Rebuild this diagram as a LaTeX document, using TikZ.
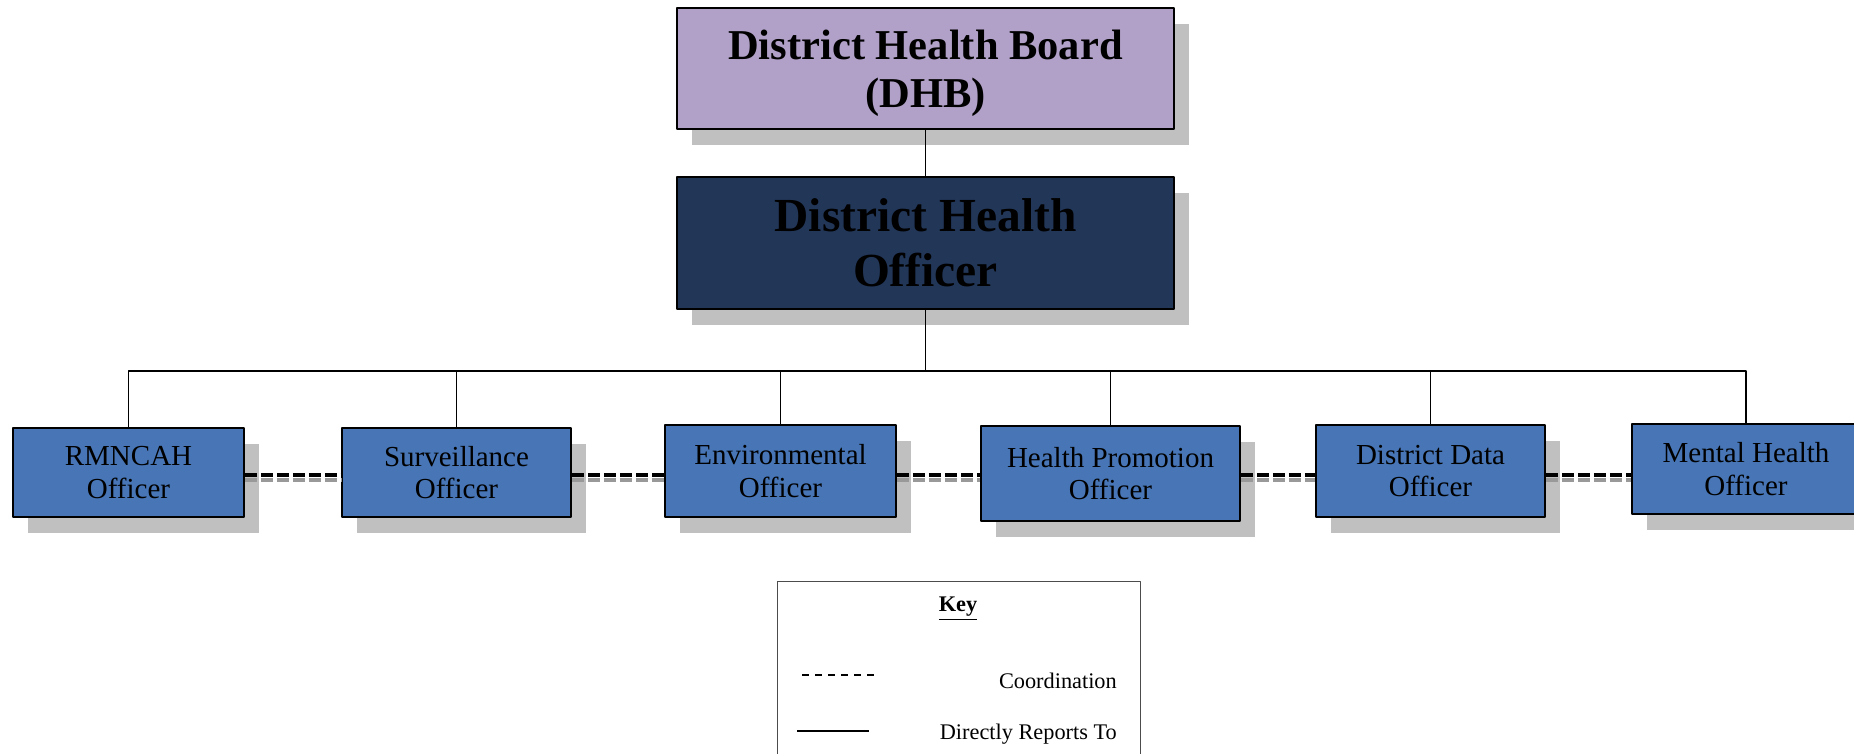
\documentclass[tikz,border=0pt]{standalone}
\usepackage{fontspec}
\setmainfont{Liberation Serif}
\usepackage{tikz}
\usetikzlibrary{shadows,backgrounds}
\definecolor{boardlilac}{HTML}{B1A0C7}
\definecolor{officernavy}{HTML}{223658}
\definecolor{staffblue}{HTML}{4775B5}
\definecolor{shadowgrey}{HTML}{C0C0C0}

\begin{document}
\begin{tikzpicture}[join=round, % District Health Team
       box/.style={draw=black,line width=0.9pt,inner sep=0pt,align=center,
              drop shadow={shadow xshift=0.3cm,shadow yshift=-0.32cm,fill=shadowgrey,opacity=1}},
       staff/.style={box,fill=staffblue,font=\fontsize{16.5}{18.6}\selectfont},
       report/.style={line width=0.8pt},
       coord/.style={line width=1.9pt,dash pattern=on 6.8pt off 2.3pt},
       keytext/.style={anchor=base east,font=\fontsize{12.7}{15}\selectfont}]
       \useasboundingbox (0,0) rectangle (37.08,15.08);
       \node[box,fill=boardlilac,minimum width=9.94cm,minimum height=2.42cm,text depth=0pt,
              font=\bfseries\fontsize{24.2}{27.3}\selectfont] (dhb) at (18.51,13.71) {District Health Board\\(DHB)};
       \node[box,fill=officernavy,minimum width=9.94cm,minimum height=2.64cm,
              font=\bfseries\fontsize{27}{31.3}\selectfont] (dho) at (18.51,10.22) {District Health\\Officer};
       \node[staff,minimum width=4.62cm,minimum height=1.78cm] (rmncah) at (2.57,5.63) {RMNCAH\\Officer};
       \node[staff,minimum width=4.58cm,minimum height=1.78cm] (surv) at (9.13,5.63) {Surveillance\\Officer};
       \node[staff,minimum width=4.62cm,minimum height=1.84cm] (env) at (15.61,5.66) {Environmental\\Officer};
       \node[staff,minimum width=5.18cm,minimum height=1.90cm] (promo) at (22.21,5.61) {Health Promotion\\Officer};
       \node[staff,minimum width=4.58cm,minimum height=1.84cm] (data) at (28.61,5.66) {District Data\\Officer};
       \node[staff,minimum width=4.56cm,minimum height=1.80cm] (mental) at (34.92,5.70) {Mental Health\\Officer};
       \coordinate (bus) at (18.51,7.66);
       \coordinate (dashline) at (0,5.58);
       \coordinate (dashshade) at (0,5.48);
       \draw[report] (dhb) -- (dho);
       \draw[report] (dho) -- (bus);
       \draw[report] (rmncah.north) -- (rmncah.north |- bus) -- (mental.north |- bus) -- (mental.north);
       \foreach \n in {surv,env,promo,data}
              \draw[report] (\n.north) -- (\n.north |- bus);
       \foreach \a/\b in {rmncah/surv,surv/env,env/promo,promo/data,data/mental}{
              \draw[coord,black!40] (\a.east |- dashshade) -- (\b.west |- dashshade);
              \draw[coord] (\a.east |- dashline) -- (\b.west |- dashline);}
       \node[draw=black!70,line width=0.5pt,minimum width=7.26cm,minimum height=5cm,anchor=north] (key) at (19.17,3.46) {};
       \node[anchor=base,font=\bfseries\fontsize{12.7}{15}\selectfont] (keytitle) at (19.16,2.84) {\underline{Key}};
       \node[keytext] (coordtext) at (22.46,1.30) {Coordination};
       \node[keytext] (reporttext) at (22.46,0.28) {Directly Reports To};
       \coordinate (k1) at (16.04,1.58);
       \coordinate (k2) at (17.54,1.58);
       \coordinate (k3) at (15.94,0.46);
       \coordinate (k4) at (17.38,0.46);
       \draw[line width=0.6pt,dash pattern=on 4pt off 3.4pt] (k1) -- (k2);
       \draw[line width=0.8pt] (k3) -- (k4);
\end{tikzpicture}
\end{document}
